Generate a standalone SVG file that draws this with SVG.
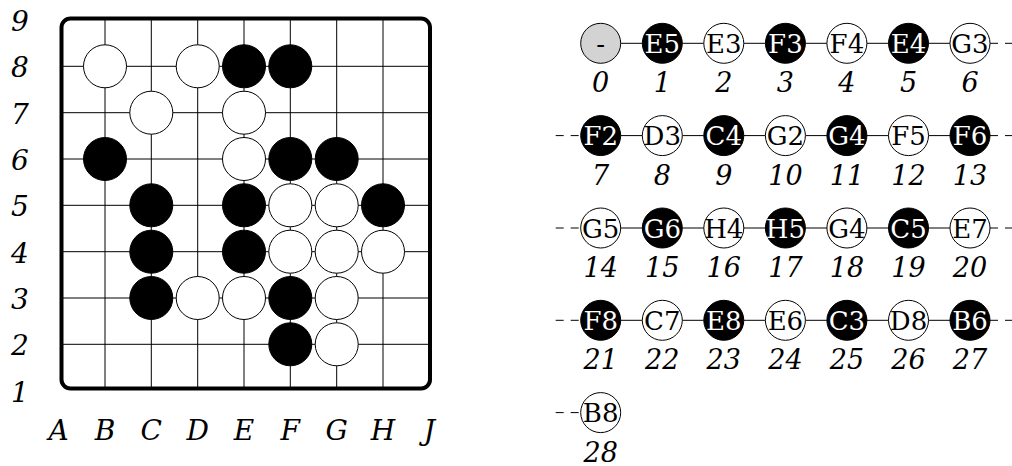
<svg xmlns="http://www.w3.org/2000/svg" width="1012" height="466" viewBox="0 0 1012 466">
<style>
.lbl{font-family:"DejaVu Serif",serif;font-style:italic;font-size:28px;fill:#000;text-anchor:middle}
.num{font-family:"DejaVu Serif",serif;font-style:italic;font-size:27px;fill:#000;text-anchor:middle}
.grid{stroke:#000;stroke-width:1;fill:none}
.frame{fill:none;stroke:#000;stroke-width:4}
.sw{fill:#fff;stroke:#000;stroke-width:1}
.sb{fill:#000;stroke:#000;stroke-width:1}
.sg{fill:#d3d3d3;stroke:#000;stroke-width:1}
.tw{font-family:"DejaVu Serif",serif;font-size:26px;fill:#000;text-anchor:middle}
.tb{font-family:"DejaVu Serif",serif;font-size:26px;fill:#fff;text-anchor:middle}
.edge{stroke:#000;stroke-width:1;fill:none}
.dash{stroke:#000;stroke-width:1;fill:none;stroke-dasharray:8 7}
</style>
<g id="board">
<g class="grid">
<line x1="105" y1="18.5" x2="105" y2="388.5"/>
<line x1="151.3" y1="18.5" x2="151.3" y2="388.5"/>
<line x1="197.7" y1="18.5" x2="197.7" y2="388.5"/>
<line x1="244" y1="18.5" x2="244" y2="388.5"/>
<line x1="290.3" y1="18.5" x2="290.3" y2="388.5"/>
<line x1="336.7" y1="18.5" x2="336.7" y2="388.5"/>
<line x1="383" y1="18.5" x2="383" y2="388.5"/>
<line x1="61.5" y1="66.3" x2="430" y2="66.3"/>
<line x1="61.5" y1="112.7" x2="430" y2="112.7"/>
<line x1="61.5" y1="159" x2="430" y2="159"/>
<line x1="61.5" y1="205.3" x2="430" y2="205.3"/>
<line x1="61.5" y1="251.7" x2="430" y2="251.7"/>
<line x1="61.5" y1="298" x2="430" y2="298"/>
<line x1="61.5" y1="344.3" x2="430" y2="344.3"/>
</g>
<rect class="frame" x="61.5" y="18.5" width="368.5" height="370" rx="9"/>
<g id="stones">
<circle class="sw" cx="105" cy="66.3" r="21.5"/>
<circle class="sw" cx="197.7" cy="66.3" r="21.5"/>
<circle class="sb" cx="244" cy="66.3" r="21.5"/>
<circle class="sb" cx="290.3" cy="66.3" r="21.5"/>
<circle class="sw" cx="151.3" cy="112.7" r="21.5"/>
<circle class="sw" cx="244" cy="112.7" r="21.5"/>
<circle class="sb" cx="105" cy="159" r="21.5"/>
<circle class="sw" cx="244" cy="159" r="21.5"/>
<circle class="sb" cx="290.3" cy="159" r="21.5"/>
<circle class="sb" cx="336.7" cy="159" r="21.5"/>
<circle class="sb" cx="151.3" cy="205.3" r="21.5"/>
<circle class="sb" cx="244" cy="205.3" r="21.5"/>
<circle class="sw" cx="290.3" cy="205.3" r="21.5"/>
<circle class="sw" cx="336.7" cy="205.3" r="21.5"/>
<circle class="sb" cx="383" cy="205.3" r="21.5"/>
<circle class="sb" cx="151.3" cy="251.7" r="21.5"/>
<circle class="sb" cx="244" cy="251.7" r="21.5"/>
<circle class="sw" cx="290.3" cy="251.7" r="21.5"/>
<circle class="sw" cx="336.7" cy="251.7" r="21.5"/>
<circle class="sw" cx="383" cy="251.7" r="21.5"/>
<circle class="sb" cx="151.3" cy="298" r="21.5"/>
<circle class="sw" cx="197.7" cy="298" r="21.5"/>
<circle class="sw" cx="244" cy="298" r="21.5"/>
<circle class="sb" cx="290.3" cy="298" r="21.5"/>
<circle class="sw" cx="336.7" cy="298" r="21.5"/>
<circle class="sb" cx="290.3" cy="344.3" r="21.5"/>
<circle class="sw" cx="336.7" cy="344.3" r="21.5"/>
</g>
<g id="row-labels">
<text class="lbl" x="20" y="31">9</text>
<text class="lbl" x="20" y="77.3">8</text>
<text class="lbl" x="20" y="123.7">7</text>
<text class="lbl" x="20" y="170">6</text>
<text class="lbl" x="20" y="216.3">5</text>
<text class="lbl" x="20" y="262.7">4</text>
<text class="lbl" x="20" y="309">3</text>
<text class="lbl" x="20" y="355.3">2</text>
<text class="lbl" x="20" y="401.7">1</text>
</g>
<g id="col-labels">
<text class="lbl" x="58.7" y="439.5">A</text>
<text class="lbl" x="105" y="439.5">B</text>
<text class="lbl" x="151.3" y="439.5">C</text>
<text class="lbl" x="197.7" y="439.5">D</text>
<text class="lbl" x="244" y="439.5">E</text>
<text class="lbl" x="290.3" y="439.5">F</text>
<text class="lbl" x="336.7" y="439.5">G</text>
<text class="lbl" x="383" y="439.5">H</text>
<text class="lbl" x="429.3" y="439.5">J</text>
</g>
</g>
<g id="connectors">
<line class="edge" x1="620.7" y1="43.3" x2="642.3" y2="43.3"/>
<line class="edge" x1="682.3" y1="43.3" x2="703.8" y2="43.3"/>
<line class="edge" x1="743.8" y1="43.3" x2="765.4" y2="43.3"/>
<line class="edge" x1="805.4" y1="43.3" x2="826.9" y2="43.3"/>
<line class="edge" x1="866.9" y1="43.3" x2="888.5" y2="43.3"/>
<line class="edge" x1="928.5" y1="43.3" x2="950" y2="43.3"/>
<line class="dash" x1="990" y1="43.3" x2="1015" y2="43.3"/>
<line class="dash" x1="555.7" y1="135.6" x2="580.7" y2="135.6"/>
<line class="edge" x1="620.7" y1="135.6" x2="642.3" y2="135.6"/>
<line class="edge" x1="682.3" y1="135.6" x2="703.8" y2="135.6"/>
<line class="edge" x1="743.8" y1="135.6" x2="765.4" y2="135.6"/>
<line class="edge" x1="805.4" y1="135.6" x2="826.9" y2="135.6"/>
<line class="edge" x1="866.9" y1="135.6" x2="888.5" y2="135.6"/>
<line class="edge" x1="928.5" y1="135.6" x2="950" y2="135.6"/>
<line class="dash" x1="990" y1="135.6" x2="1015" y2="135.6"/>
<line class="dash" x1="555.7" y1="228" x2="580.7" y2="228"/>
<line class="edge" x1="620.7" y1="228" x2="642.3" y2="228"/>
<line class="edge" x1="682.3" y1="228" x2="703.8" y2="228"/>
<line class="edge" x1="743.8" y1="228" x2="765.4" y2="228"/>
<line class="edge" x1="805.4" y1="228" x2="826.9" y2="228"/>
<line class="edge" x1="866.9" y1="228" x2="888.5" y2="228"/>
<line class="edge" x1="928.5" y1="228" x2="950" y2="228"/>
<line class="dash" x1="990" y1="228" x2="1015" y2="228"/>
<line class="dash" x1="555.7" y1="320.3" x2="580.7" y2="320.3"/>
<line class="edge" x1="620.7" y1="320.3" x2="642.3" y2="320.3"/>
<line class="edge" x1="682.3" y1="320.3" x2="703.8" y2="320.3"/>
<line class="edge" x1="743.8" y1="320.3" x2="765.4" y2="320.3"/>
<line class="edge" x1="805.4" y1="320.3" x2="826.9" y2="320.3"/>
<line class="edge" x1="866.9" y1="320.3" x2="888.5" y2="320.3"/>
<line class="edge" x1="928.5" y1="320.3" x2="950" y2="320.3"/>
<line class="dash" x1="990" y1="320.3" x2="1015" y2="320.3"/>
<line class="dash" x1="555.7" y1="412.6" x2="580.7" y2="412.6"/>
</g>
<g id="m0"><circle class="sg" cx="600.7" cy="43.3" r="20"/><text class="tw" x="600.7" y="52.8">-</text><text class="num" x="600.7" y="92.3">0</text></g>
<g id="m1"><circle class="sb" cx="662.3" cy="43.3" r="20"/><text class="tb" x="662.3" y="52.8">E5</text><text class="num" x="662.3" y="92.3">1</text></g>
<g id="m2"><circle class="sw" cx="723.8" cy="43.3" r="20"/><text class="tw" x="723.8" y="52.8">E3</text><text class="num" x="723.8" y="92.3">2</text></g>
<g id="m3"><circle class="sb" cx="785.4" cy="43.3" r="20"/><text class="tb" x="785.4" y="52.8">F3</text><text class="num" x="785.4" y="92.3">3</text></g>
<g id="m4"><circle class="sw" cx="846.9" cy="43.3" r="20"/><text class="tw" x="846.9" y="52.8">F4</text><text class="num" x="846.9" y="92.3">4</text></g>
<g id="m5"><circle class="sb" cx="908.5" cy="43.3" r="20"/><text class="tb" x="908.5" y="52.8">E4</text><text class="num" x="908.5" y="92.3">5</text></g>
<g id="m6"><circle class="sw" cx="970" cy="43.3" r="20"/><text class="tw" x="970" y="52.8">G3</text><text class="num" x="970" y="92.3">6</text></g>
<g id="m7"><circle class="sb" cx="600.7" cy="135.6" r="20"/><text class="tb" x="600.7" y="145.1">F2</text><text class="num" x="600.7" y="184.6">7</text></g>
<g id="m8"><circle class="sw" cx="662.3" cy="135.6" r="20"/><text class="tw" x="662.3" y="145.1">D3</text><text class="num" x="662.3" y="184.6">8</text></g>
<g id="m9"><circle class="sb" cx="723.8" cy="135.6" r="20"/><text class="tb" x="723.8" y="145.1">C4</text><text class="num" x="723.8" y="184.6">9</text></g>
<g id="m10"><circle class="sw" cx="785.4" cy="135.6" r="20"/><text class="tw" x="785.4" y="145.1">G2</text><text class="num" x="785.4" y="184.6">10</text></g>
<g id="m11"><circle class="sb" cx="846.9" cy="135.6" r="20"/><text class="tb" x="846.9" y="145.1">G4</text><text class="num" x="846.9" y="184.6">11</text></g>
<g id="m12"><circle class="sw" cx="908.5" cy="135.6" r="20"/><text class="tw" x="908.5" y="145.1">F5</text><text class="num" x="908.5" y="184.6">12</text></g>
<g id="m13"><circle class="sb" cx="970" cy="135.6" r="20"/><text class="tb" x="970" y="145.1">F6</text><text class="num" x="970" y="184.6">13</text></g>
<g id="m14"><circle class="sw" cx="600.7" cy="228" r="20"/><text class="tw" x="600.7" y="237.5">G5</text><text class="num" x="600.7" y="277">14</text></g>
<g id="m15"><circle class="sb" cx="662.3" cy="228" r="20"/><text class="tb" x="662.3" y="237.5">G6</text><text class="num" x="662.3" y="277">15</text></g>
<g id="m16"><circle class="sw" cx="723.8" cy="228" r="20"/><text class="tw" x="723.8" y="237.5">H4</text><text class="num" x="723.8" y="277">16</text></g>
<g id="m17"><circle class="sb" cx="785.4" cy="228" r="20"/><text class="tb" x="785.4" y="237.5">H5</text><text class="num" x="785.4" y="277">17</text></g>
<g id="m18"><circle class="sw" cx="846.9" cy="228" r="20"/><text class="tw" x="846.9" y="237.5">G4</text><text class="num" x="846.9" y="277">18</text></g>
<g id="m19"><circle class="sb" cx="908.5" cy="228" r="20"/><text class="tb" x="908.5" y="237.5">C5</text><text class="num" x="908.5" y="277">19</text></g>
<g id="m20"><circle class="sw" cx="970" cy="228" r="20"/><text class="tw" x="970" y="237.5">E7</text><text class="num" x="970" y="277">20</text></g>
<g id="m21"><circle class="sb" cx="600.7" cy="320.3" r="20"/><text class="tb" x="600.7" y="329.8">F8</text><text class="num" x="600.7" y="369.3">21</text></g>
<g id="m22"><circle class="sw" cx="662.3" cy="320.3" r="20"/><text class="tw" x="662.3" y="329.8">C7</text><text class="num" x="662.3" y="369.3">22</text></g>
<g id="m23"><circle class="sb" cx="723.8" cy="320.3" r="20"/><text class="tb" x="723.8" y="329.8">E8</text><text class="num" x="723.8" y="369.3">23</text></g>
<g id="m24"><circle class="sw" cx="785.4" cy="320.3" r="20"/><text class="tw" x="785.4" y="329.8">E6</text><text class="num" x="785.4" y="369.3">24</text></g>
<g id="m25"><circle class="sb" cx="846.9" cy="320.3" r="20"/><text class="tb" x="846.9" y="329.8">C3</text><text class="num" x="846.9" y="369.3">25</text></g>
<g id="m26"><circle class="sw" cx="908.5" cy="320.3" r="20"/><text class="tw" x="908.5" y="329.8">D8</text><text class="num" x="908.5" y="369.3">26</text></g>
<g id="m27"><circle class="sb" cx="970" cy="320.3" r="20"/><text class="tb" x="970" y="329.8">B6</text><text class="num" x="970" y="369.3">27</text></g>
<g id="m28"><circle class="sw" cx="600.7" cy="412.6" r="20"/><text class="tw" x="600.7" y="422.1">B8</text><text class="num" x="600.7" y="461.6">28</text></g>
</svg>
